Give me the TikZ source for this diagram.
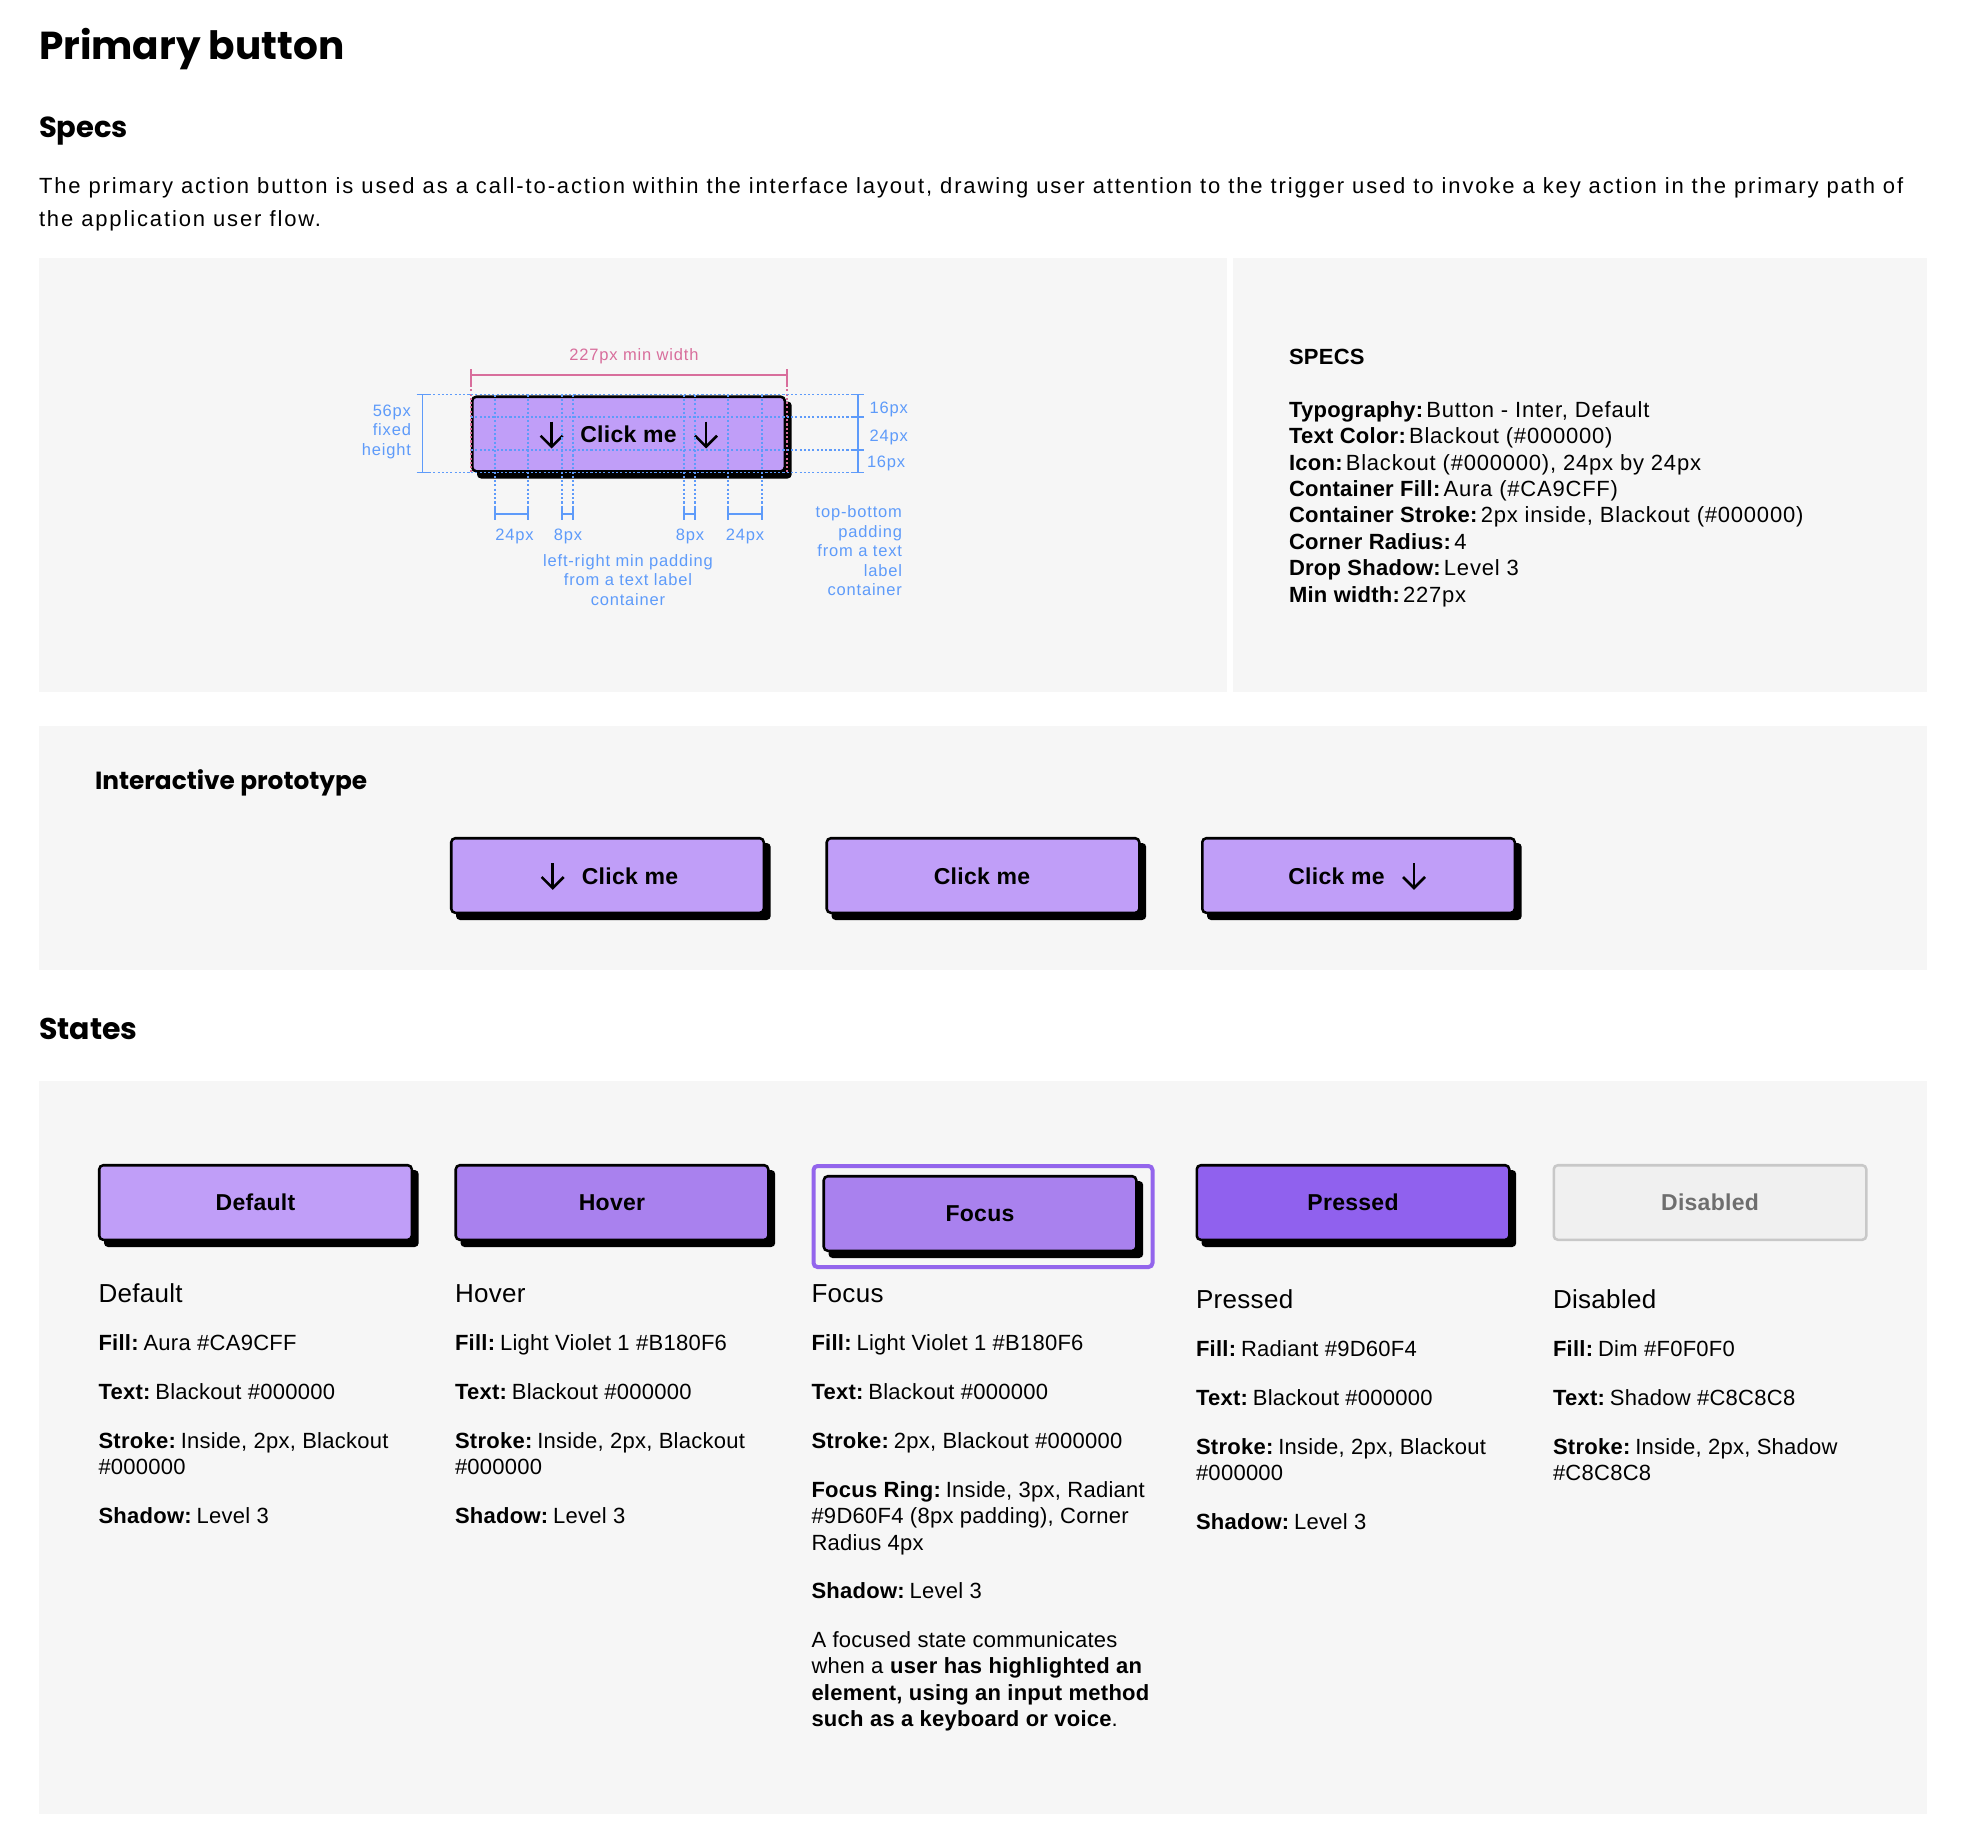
\documentclass[tikz,border=0pt]{standalone}
\usepackage{fontspec}
\setmainfont{Liberation Sans}
\newfontfamily\bodyf[LetterSpace=1.2]{Liberation Sans}
\newfontfamily\paraf[LetterSpace=8.5]{Liberation Sans}
\newfontfamily\specf[LetterSpace=3.6]{Liberation Sans}
\newfontfamily\annof[LetterSpace=5]{Liberation Sans}
\newfontfamily\headf{Poppins}
\newcounter{tc}
\newcommand\pxf[1]{\fontsize{\the\dimexpr #1pt*3/4\relax}{\the\dimexpr #1pt*9/10\relax}\selectfont}
\definecolor{panel}{HTML}{F6F6F6}
\definecolor{aura}{HTML}{C09EF8}
\definecolor{hov}{HTML}{A981EE}
\definecolor{press}{HTML}{9061EE}
\definecolor{ring}{HTML}{9365EC}
\definecolor{dimf}{HTML}{F0F0F0}
\definecolor{shad}{HTML}{C8C8C8}
\definecolor{disT}{HTML}{6E6E6E}
\definecolor{blue1}{HTML}{5E9BFA}
\definecolor{pink1}{HTML}{D86E9C}
\tikzset{
 x=0.75pt,y=-0.75pt,
 txt/.style={inner sep=0pt,outer sep=0pt,text=black,font=\bodyf\pxf{22}},
 head/.style={txt,font=\headf\bfseries\pxf{29}},
 anno/.style={inner sep=0pt,outer sep=0pt,text=blue1,font=\annof\pxf{16.5}},
 btnbox/.style={draw=black,line width=1.9pt,rounded corners=3pt,minimum width=234.4pt,minimum height=55.9pt,inner sep=0pt,outer sep=0pt,anchor=north west,font=\bodyf\bfseries\pxf{23},text=black},
 shadowbox/.style={fill=black,rounded corners=3pt},
 dotl/.style={blue1,line width=0.9pt,dash pattern=on 1.6pt off 1.6pt},
 dimline/.style={blue1,line width=1.1pt},
 arrowline/.style={black,line width=1.9pt,line cap=butt},
}
\newcommand\B[1]{\textbf{#1}\kern-2.9pt\relax}
\newcommand\SB[1]{{\bodyf\bfseries #1}\kern-4.5pt\relax}
\newcommand\tl[3]{\stepcounter{tc}\node[txt,anchor=base west] (t\arabic{tc}) at (#1,{#2+0.4}) {#3};}
\newcommand\spl[3]{\stepcounter{tc}\node[txt,font=\specf\pxf{22},anchor=base west] (t\arabic{tc}) at (#1,#2) {#3};}
\newcommand\an[4]{\stepcounter{tc}\node[anno,anchor=base #1] (t\arabic{tc}) at (#2,#3) {#4};}
\newcommand\btn[5]{% name x y fill text
 \fill[shadowbox] ({#2+6},{#3+6}) rectangle ({#2+320.7},{#3+83});
 \node[btnbox,fill=#4] (#1) at ({#2+1.25},{#3+1.25}) {#5};
}
\newcommand\darrow[3]{% cx top bottom
 \draw[arrowline,line join=miter] (#1,#2) -- (#1,#3);
 \draw[arrowline] ({#1-11},{#3-11}) -- (#1,#3) -- ({#1+11},{#3-11});
}
\newcommand\captn[2]{\node[txt,anchor=base west,font=\bodyf\pxf{26}] (cap#1) at #2 {#1};}
\begin{document}
\begin{tikzpicture}
\useasboundingbox (0,0) rectangle (1962,1840);
\fill[white] (0,0) rectangle (1962,1840);
% panels
\fill[panel] (39,258) rectangle (1227,692);
\fill[panel] (1233,258) rectangle (1927,692);
\fill[panel] (39,726) rectangle (1927,970);
\fill[panel] (39,1081) rectangle (1927,1814);
% headings
\node[head,anchor=base west,font=\headf\bfseries\pxf{39}] (title) at (39,60) {Primary button};
\node[head,anchor=base west] (specs) at (39,138) {Specs};
\node[head,anchor=base west,font=\headf\bfseries\pxf{30}] (states) at (39,1039) {States};
\node[txt,font=\paraf\pxf{22},anchor=base west] (para1) at (39,194) {The primary action button is used as a call-to-action within the interface layout, drawing user attention to the trigger used to invoke a key action in the primary path of};
\node[txt,font=\paraf\pxf{22},anchor=base west] (para2) at (39,227) {the application user flow.};
% specs right
\spl{1289}{364}{{\bodyf\bfseries SPECS}}
\spl{1289}{417}{\SB{Typography:} Button - Inter, Default}
\spl{1289}{443.5}{\SB{Text Color:} Blackout (\#000000)}
\spl{1289}{470}{\SB{Icon:} Blackout (\#000000), 24px by 24px}
\spl{1289}{496.5}{\SB{Container Fill:} Aura (\#CA9CFF)}
\spl{1289}{522.5}{\SB{Container Stroke:} 2px inside, Blackout (\#000000)}
\spl{1289}{549}{\SB{Corner Radius:} 4}
\spl{1289}{575.5}{\SB{Drop Shadow:} Level 3}
\spl{1289}{602}{\SB{Min width:} 227px}
% anatomy
\btn{anat}{471}{395.5}{aura}{}
\node[txt,anchor=base,font=\bodyf\bfseries\pxf{23}] (anatlabel) at (628.5,442) {Click me};
\darrow{551.6}{421.7}{446.7}
\darrow{706}{421.7}{446.7}
% pink dimension
\coordinate (pl) at (471,375); \coordinate (pr) at (787,375);
\draw[pink1,line width=1.1pt] (pl) -- (pr);
\draw[pink1,line width=1.1pt] (471,369) -- (471,385);
\draw[pink1,line width=1.1pt] (787,369) -- (787,385);
\draw[pink1,line width=0.9pt,dash pattern=on 1.6pt off 1.6pt] (471,385) -- (471,472);
\draw[pink1,line width=0.9pt,dash pattern=on 1.6pt off 1.6pt] (787,385) -- (787,472);
\node[anno,text=pink1,anchor=base] (pinklabel) at (634,360.7) {227px min width};
% dotted horizontals
\foreach \yy in {394.7,417,450,472.3}{\draw[dotl] (471,\yy) -- (858,\yy);}
\draw[dotl] (429,394.7) -- (471,394.7);
\draw[dotl] (429,472.3) -- (471,472.3);
% dotted verticals
\foreach \xx in {495,528,562,573,684,695,728,762}{\draw[dotl] (\xx,394.7) -- (\xx,520);}
% left bar
\draw[dimline] (422.7,394.7) -- (422.7,472.3);
\draw[dimline] (416.5,394.7) -- (429,394.7);
\draw[dimline] (416.5,472.3) -- (429,472.3);
% right bar
\draw[dimline] (858,394.7) -- (858,472.3);
\foreach \yy in {394.7,417,450,472.3}{\draw[dimline] (851,\yy) -- (863.5,\yy);}
% bottom bars
\foreach \a/\b in {495/528,562/573,684/695,728/762}{
 \draw[dimline] (\a,514) -- (\b,514);
 \draw[dimline] (\a,508) -- (\a,520);
 \draw[dimline] (\b,508) -- (\b,520);
}
% anatomy labels
\an{east}{411}{416.7}{56px}
\an{east}{411}{435.7}{fixed}
\an{east}{411}{455}{height}
\an{west}{869.7}{413.3}{16px}
\an{west}{869.7}{441.7}{24px}
\an{west}{867}{467.3}{16px}
\an{}{514.5}{540}{24px}
\an{}{568}{540}{8px}
\an{}{690}{540}{8px}
\an{}{745}{540}{24px}
\an{}{628}{566}{left-right min padding}
\an{}{628}{585.7}{from a text label}
\an{}{628}{605}{container}
\an{east}{902}{517.7}{top-bottom}
\an{east}{902}{537}{padding}
\an{east}{902}{556.7}{from a text}
\an{east}{902}{576}{label}
\an{east}{902}{595.7}{container}
% prototype
\node[head,anchor=base west,font=\headf\bfseries\pxf{24.8}] (proto) at (95,789) {Interactive prototype};
\btn{p1}{450}{837}{aura}{}
\node[txt,anchor=base,font=\bodyf\bfseries\pxf{23}] (p1l) at (630,884) {Click me};
\darrow{552.7}{863}{888}
\btn{p2}{825.5}{837}{aura}{}
\node[txt,anchor=base,font=\bodyf\bfseries\pxf{23}] (p2l) at (982,884) {Click me};
\btn{p3}{1201}{837}{aura}{}
\node[txt,anchor=base,font=\bodyf\bfseries\pxf{23}] (p3l) at (1336.5,884) {Click me};
\darrow{1414}{863}{888}
% states buttons
\btn{s1}{98}{1164}{aura}{Default}
\btn{s2}{454.5}{1164}{hov}{Hover}
\draw[ring,line width=3pt,rounded corners=3pt] (813.5,1166) rectangle (1152.5,1267);
\btn{s3}{822.5}{1175}{hov}{Focus}
\btn{s4}{1195.5}{1164}{press}{Pressed}
\node[btnbox,draw=shad,fill=dimf,text=disT] (s5) at (1553.75,1165.25) {Disabled};
% captions
\captn{Default}{(98.5,1302)}
\captn{Hover}{(455,1302)}
\captn{Focus}{(811.5,1302)}
\captn{Pressed}{(1196,1308)}
\captn{Disabled}{(1553,1308)}
% default
\tl{98.5}{1350}{\B{Fill:} Aura \#CA9CFF}
\tl{98.5}{1399}{\B{Text:} Blackout \#000000}
\tl{98.5}{1448}{\B{Stroke:} Inside, 2px, Blackout}
\tl{98.5}{1474}{\#000000}
\tl{98.5}{1523}{\B{Shadow:} Level 3}
% hover
\tl{455}{1350}{\B{Fill:} Light Violet 1 \#B180F6}
\tl{455}{1399}{\B{Text:} Blackout \#000000}
\tl{455}{1448}{\B{Stroke:} Inside, 2px, Blackout}
\tl{455}{1474}{\#000000}
\tl{455}{1523}{\B{Shadow:} Level 3}
% focus
\tl{811.5}{1350}{\B{Fill:} Light Violet 1 \#B180F6}
\tl{811.5}{1399}{\B{Text:} Blackout \#000000}
\tl{811.5}{1448}{\B{Stroke:} 2px, Blackout \#000000}
\tl{811.5}{1497}{\B{Focus Ring:} Inside, 3px, Radiant}
\tl{811.5}{1523.5}{\#9D60F4 (8px padding), Corner}
\tl{811.5}{1550}{Radius 4px}
\tl{811.5}{1598}{\B{Shadow:} Level 3}
\tl{811.5}{1647}{A focused state communicates}
\tl{811.5}{1673}{when a \textbf{user has highlighted an}}
\tl{811.5}{1700}{\textbf{element, using an input method}}
\tl{811.5}{1726}{\textbf{such as a keyboard or voice}.}
% pressed
\tl{1196}{1356}{\B{Fill:} Radiant \#9D60F4}
\tl{1196}{1405}{\B{Text:} Blackout \#000000}
\tl{1196}{1454}{\B{Stroke:} Inside, 2px, Blackout}
\tl{1196}{1480}{\#000000}
\tl{1196}{1529}{\B{Shadow:} Level 3}
% disabled
\tl{1553}{1356}{\B{Fill:} Dim \#F0F0F0}
\tl{1553}{1405}{\B{Text:} Shadow \#C8C8C8}
\tl{1553}{1454}{\B{Stroke:} Inside, 2px, Shadow}
\tl{1553}{1480}{\#C8C8C8}
\end{tikzpicture}
\end{document}
